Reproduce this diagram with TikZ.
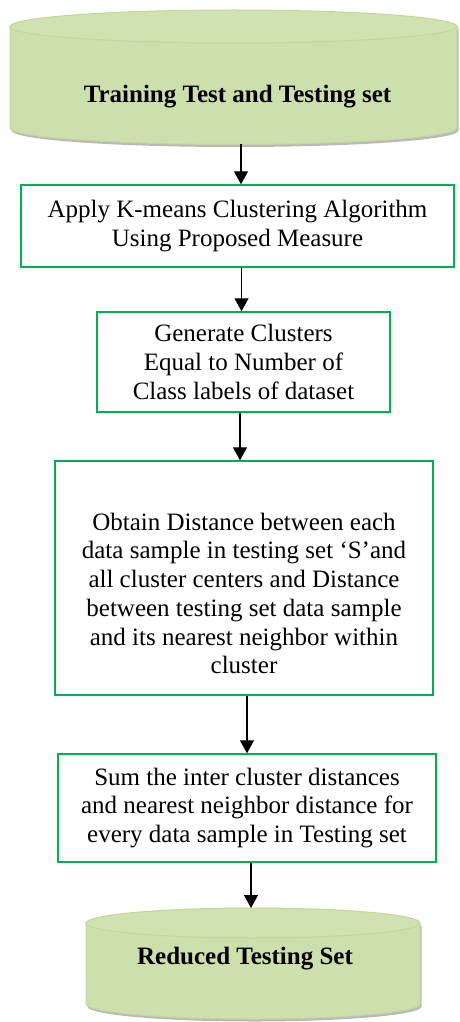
\documentclass[tikz,border=0pt]{standalone}
\usepackage{fontspec}
\setmainfont{Liberation Serif}
\usepackage{xcolor}
\definecolor{boxgreen}{HTML}{00B050}
\definecolor{canrim}{HTML}{C3D69B}
\definecolor{lidgreen}{HTML}{D0E1B2}
\definecolor{canlight}{HTML}{EEF4E4}
\definecolor{canmid}{HTML}{CCDFAC}
\usepackage{tikz}
\usetikzlibrary{arrows.meta, positioning, shadows}

\tikzset{
  procbox/.style={draw=boxgreen, line width=1.5pt, fill=white, align=center,
    inner sep=0pt, font=\fontsize{25}{28.75}\selectfont},
  canbody/.style={draw=canrim, line width=1pt, left color=canmid,
    middle color=canlight, right color=canmid, shading angle=65,
    drop shadow={shadow xshift=1.5pt, shadow yshift=-2.5pt, fill=black!55, opacity=0.5}},
  canlid/.style={draw=canrim, line width=1pt, fill=lidgreen},
  cantext/.style={font=\fontsize{25}{28.75}\selectfont\bfseries},
  flow/.style={line width=1.3pt, -{Triangle[length=13pt, width=14pt]}}
}

\begin{document}
\begin{tikzpicture}[x=1pt, y=-1pt]
  \useasboundingbox (0,0) rectangle (459,1022);

  % --- input store (top) ---
  \shade[canbody] (10,26.5) -- (10,128)
    arc[start angle=180, end angle=360, x radius=223.5pt, y radius=16.5pt]
    -- (457,26.5) -- cycle;
  \filldraw[canlid] (233.5,26.5) ellipse[x radius=223.5pt, y radius=16.5pt];
  \node[cantext] (train) at (237.5,97) {Training Test and Testing set};
  \coordinate (trainfoot) at (241,144);

  % --- process steps ---
  \node[procbox, minimum width=433, minimum height=82] (apply) at (237.5,226)
    {Apply K-means Clustering Algorithm\\Using Proposed Measure};
  \node[procbox, minimum width=293, minimum height=100] (generate) at (243.5,362)
    {Generate Clusters\\Equal to Number of\\Class labels of dataset};
  % text sits low in this box
  \node[procbox, minimum width=378, minimum height=234] (obtain) at (244,578)
    {\rule{0pt}{48pt}Obtain Distance between each\\data sample in testing set ‘S’and\\all cluster centers and Distance\\between testing set data sample\\and its nearest neighbor within\\cluster};
  \node[procbox, minimum width=378, minimum height=108] (sumup) at (247,808)
    {Sum the inter cluster distances\\and nearest neighbor distance for\\every data sample in Testing set};

  % --- output store (bottom) ---
  \shade[canbody] (86,923) -- (86,1004)
    arc[start angle=180, end angle=360, x radius=167pt, y radius=15pt]
    -- (420,923) -- cycle;
  \filldraw[canlid] (253,923) ellipse[x radius=167pt, y radius=15pt];
  \node[cantext] (reduced) at (245,959) {Reduced Testing Set};
  \coordinate (reducedlid) at (251,908);

  % --- arrows ---
  \draw[flow] (trainfoot) -- (trainfoot |- apply.north);
  \draw[flow] ([xshift=4pt]apply.south) -- ([xshift=4pt]apply.south |- generate.north);
  \draw[flow] ([xshift=-3.5pt]generate.south) -- ([xshift=-3.5pt]generate.south |- obtain.north);
  \draw[flow] ([xshift=3pt]obtain.south) -- ([xshift=3pt]obtain.south |- sumup.north);
  \draw[flow] ([xshift=4pt]sumup.south) -- (reducedlid);
\end{tikzpicture}
\end{document}
